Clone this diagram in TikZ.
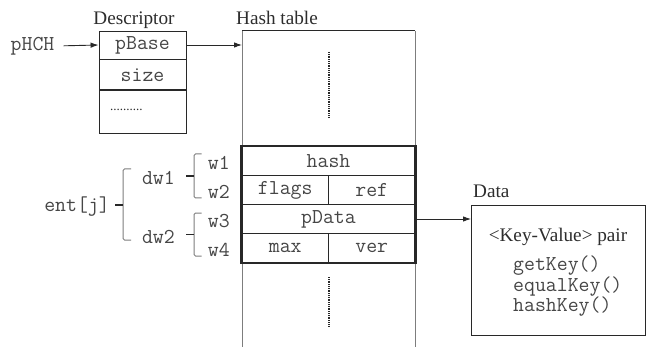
\documentclass[tikz,border=0pt]{standalone}
\usepackage{fontspec}
\setmainfont{Liberation Serif}
\usetikzlibrary{arrows.meta,positioning,calc}
\definecolor{linecol}{RGB}{40,40,40}
\definecolor{sidecol}{RGB}{125,125,125}
\definecolor{txtcol}{RGB}{45,45,45}
\definecolor{codecol}{RGB}{70,70,70}
\newcommand\codefont{\fontsize{21.2}{23}\selectfont\ttfamily}
\newcommand\labfont{\fontsize{19.2}{21}\selectfont\rmfamily}

\begin{document}
\begin{tikzpicture}[x=1pt,y=-1pt,
   code/.style={font=\codefont,text=codecol,inner sep=1pt},
   lab/.style={font=\labfont,text=txtcol,inner sep=0pt},
   cell/.style={draw=linecol,line width=0.9pt,minimum width=87pt,inner sep=0pt,font=\codefont,text=codecol},
   row/.style={draw=linecol,line width=1.2pt,minimum width=173pt,minimum height=29pt,inner sep=0pt,font=\codefont,text=codecol},
   half/.style={row,minimum width=86.5pt},
   arr/.style={draw=linecol,line width=0.9pt,-{Latex[length=8pt,width=5.5pt]}},
   brk/.style={draw=sidecol,line width=1pt,rounded corners=1.5pt},
   tick/.style={draw=linecol,line width=1.8pt},
   dots/.style={draw=linecol,line width=1.4pt,dash pattern=on 1pt off 0.8pt}]
  \useasboundingbox (0,0) rectangle (652,347);
  % descriptor
  \node[cell,minimum height=28pt] (pbase) at (142.5,45) {pBase};
  \node[cell,minimum height=30pt,below=0pt of pbase] (size) {size};
  \node[cell,minimum height=43pt,below=0pt of size] (more) {};
  \node[font=\fontsize{13}{14}\selectfont,text=txtcol,inner sep=0pt,anchor=base west] (etc) at (110,111) {..........};
  \node[lab,anchor=base] (desc) at (134,25) {Descriptor};
  \node[code] (phch) at (32.5,46) {pHCH};
  \draw[arr,shorten <=8pt] (phch.east) -- (pbase.west);
  % hash table, open at the bottom
  \coordinate (htl) at (242,31);
  \coordinate (htr) at (415,31);
  \draw[sidecol,line width=1pt] (htl) -- (242,347);
  \draw[sidecol,line width=1pt] (htr) -- (415,347);
  \draw[linecol,line width=1pt] (htl) -- (htr);
  \node[lab,anchor=base] (htlab) at (277,25) {Hash table};
  \draw[arr] (pbase.east) -- (pbase.east -| htl);
  \draw[dots] (329,52) -- (329,117);
  \draw[dots] (329,277) -- (329,327);
  % one entry
  \node[row] (hash) at (328.5,161) {hash};
  \node[half] (flags) at (285.25,190) {flags};
  \node[half] (ref) at (371.75,190) {ref};
  \node[row] (pdata) at (328.5,219) {pData};
  \node[half] (max) at (285.25,248) {max};
  \node[half] (ver) at (371.75,248) {ver};
  \draw[linecol,line width=2pt] (hash.north west) rectangle (ver.south east);
  % words and double words
  \node[code,anchor=east] (w1) at (231,163) {w1};
  \node[code,anchor=east] (w2) at (231,192) {w2};
  \node[code,anchor=east] (w3) at (231,221) {w3};
  \node[code,anchor=east] (w4) at (231,250) {w4};
  \foreach \i/\t/\b in {1/154/198,2/213/256}{
    \draw[brk] (201.5,\t) -- (194,\t) -- (194,\b) -- (201.5,\b);
    \draw[tick] (186,{(\t+\b)/2}) -- (194,{(\t+\b)/2});
    \node[code,anchor=east] (dw\i) at (176,{(\t+\b)/2+2}) {dw\i};
  }
  \draw[brk] (131,169) -- (123,169) -- (123,240) -- (131,240);
  \draw[tick] (115,205) -- (123,205);
  \node[code,anchor=east] (ent) at (111,207) {ent[j]};
  % data
  \node[draw=linecol,line width=0.9pt,minimum width=174pt,minimum height=130pt] (data) at (558.5,270) {};
  \node[lab,anchor=base west] (datalab) at (473,198) {Data};
  \node[lab] (kv) at (558,237) {\textless Key-Value\textgreater{} pair};
  \node[code,anchor=west] (getkey) at (512,266) {getKey()};
  \node[code,anchor=west] (eqkey) at (512,286.5) {equalKey()};
  \node[code,anchor=west] (hkey) at (512,307) {hashKey()};
  \draw[arr] (pdata.east) -- (pdata.east -| data.west);
\end{tikzpicture}
\end{document}
